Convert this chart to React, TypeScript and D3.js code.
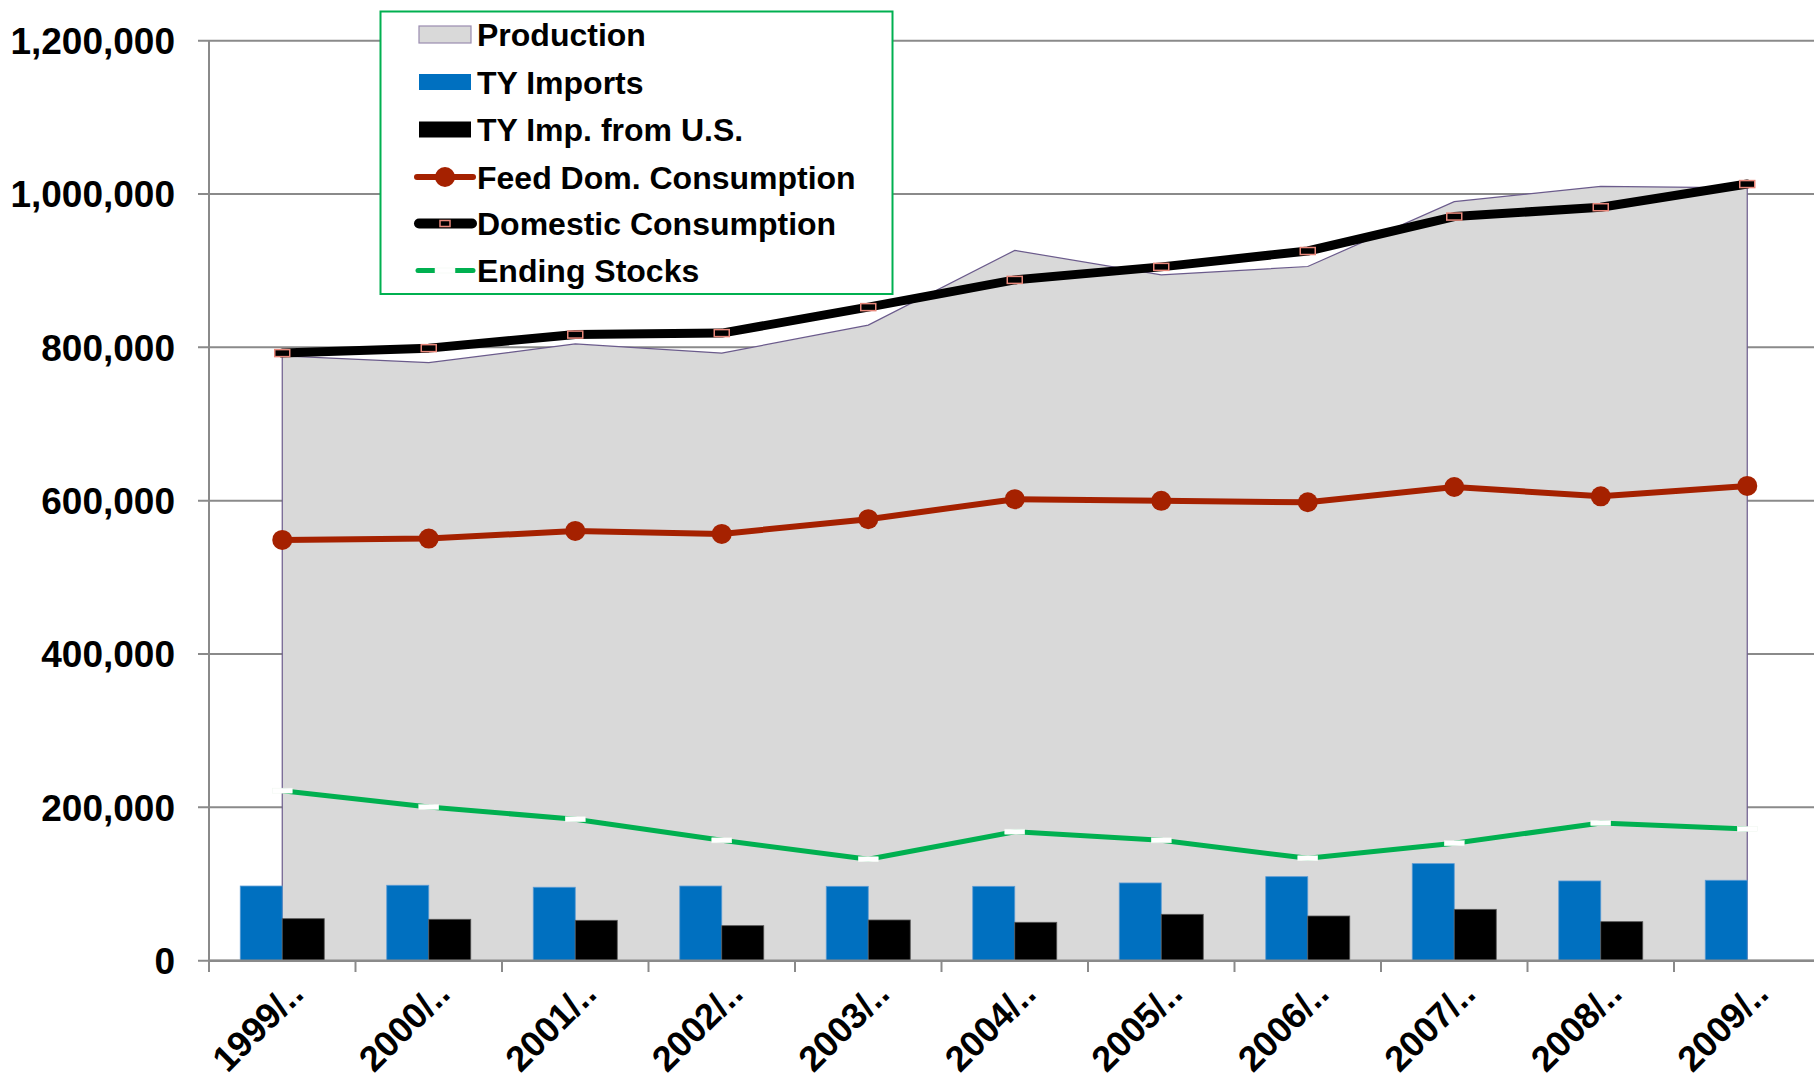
import React from "react";
import * as d3 from "d3";

const categories = ["1999/..", "2000/..", "2001/..", "2002/..", "2003/..", "2004/..", "2005/..", "2006/..", "2007/..", "2008/..", "2009/.."];
const production = [789000, 780000, 804500, 792500, 829000, 926500, 894500, 905500, 990000, 1010000, 1008000];
const tyImports = [97400, 98400, 95800, 97400, 97000, 97000, 101400, 109600, 126600, 104000, 104900];
const tyImpFromUS: (number | null)[] = [54800, 54000, 52700, 45700, 53100, 50100, 60500, 58300, 67000, 50900, null];
const feedDomConsumption = [548900, 550600, 560600, 556700, 575900, 602000, 599800, 598000, 617800, 605700, 619300];
const domesticConsumption = [792500, 799000, 816700, 818600, 852500, 888000, 905000, 925700, 970600, 982800, 1013000];
const endingStocks = [221800, 200500, 184500, 157000, 132300, 168300, 157000, 133600, 153200, 179600, 171800];
const yTicks = [0, 200000, 400000, 600000, 800000, 1000000, 1200000];
const legendLabels = ["Production", "TY Imports", "TY Imp. from U.S.", "Feed Dom. Consumption", "Domestic Consumption", "Ending Stocks"];

const W = 1814;
const H = 1083;
const FONT = "'Liberation Sans', Arial, sans-serif";

export default function App() {
  const x = d3.scaleBand<string>().domain(categories).range([209, 209 + 11 * 146.5]).padding(0);
  const y = d3.scaleLinear().domain([0, 1200000]).range([960.7, 40.7]);
  const cx = (c: string) => (x(c) as number) + x.bandwidth() / 2;
  const sub = d3.scaleBand<string>().domain(["imp", "us"]).range([-42, 42]).padding(0);
  const fmt = d3.format(",");

  const area = d3
    .area<number>()
    .x((_, i) => cx(categories[i]))
    .y0(y(0))
    .y1((d) => y(d));
  const line = d3
    .line<number>()
    .x((_, i) => cx(categories[i]))
    .y((d) => y(d));

  const xTicks = d3.range(categories.length).map((i) => x(categories[i]) as number);

  const legendY = [34.5, 82, 129.5, 177, 223.5, 270.5];
  const lx0 = 419;
  const lx1 = 471;
  const lmid = (lx0 + lx1) / 2;

  return (
    <svg width={W} height={H} style={{ position: "absolute", left: 0, top: 0, background: "#fff" }} fontFamily={FONT}>
      {/* gridlines */}
      {yTicks.map((t) => (
        <line key={"g" + t} x1={198} x2={W} y1={y(t)} y2={y(t)} stroke="#8a8a8a" strokeWidth={2} />
      ))}
      {/* y axis */}
      <line x1={209} x2={209} y1={y(1200000)} y2={972} stroke="#8a8a8a" strokeWidth={2} />
      {xTicks.map((t, i) => (
        <line key={"xt" + i} x1={t} x2={t} y1={y(0)} y2={972} stroke="#8a8a8a" strokeWidth={2} />
      ))}
      {yTicks.map((t) => (
        <text key={"yl" + t} x={175} y={y(t)} dy="0.36em" textAnchor="end" fontSize={37} fontWeight="bold" fill="#000">
          {fmt(t)}
        </text>
      ))}

      {/* production area */}
      <path d={area(production) as string} fill="#d9d9d9" stroke="#6b5b8c" strokeWidth={1.2} />

      {/* bars */}
      {categories.map((c, i) => (
        <g key={"b" + c}>
          <rect
            x={cx(c) + (sub("imp") as number)}
            y={y(tyImports[i])}
            width={sub.bandwidth()}
            height={y(0) - y(tyImports[i])}
            fill="#0070c0"
            stroke="#5b9bd5"
            strokeWidth={0.8}
          />
          {tyImpFromUS[i] != null && (
            <rect
              x={cx(c) + (sub("us") as number)}
              y={y(tyImpFromUS[i] as number)}
              width={sub.bandwidth()}
              height={y(0) - y(tyImpFromUS[i] as number)}
              fill="#000"
              stroke="#555"
              strokeWidth={0.8}
            />
          )}
        </g>
      ))}
      {/* x axis line */}
      <line x1={209} x2={W} y1={y(0)} y2={y(0)} stroke="#8a8a8a" strokeWidth={2.5} />

      {/* ending stocks */}
      <path d={line(endingStocks) as string} fill="none" stroke="#00b050" strokeWidth={5} strokeLinejoin="round" />
      {endingStocks.map((v, i) => (
        <rect key={"es" + i} x={cx(categories[i]) - 10} y={y(v) - 2.5} width={20} height={5} fill="#fff" stroke="#eef6ee" strokeWidth={0.5} />
      ))}

      {/* feed dom consumption */}
      <path d={line(feedDomConsumption) as string} fill="none" stroke="#a52100" strokeWidth={6} strokeLinejoin="round" />
      {feedDomConsumption.map((v, i) => (
        <circle key={"fd" + i} cx={cx(categories[i])} cy={y(v)} r={10} fill="#a52100" />
      ))}

      {/* domestic consumption */}
      <path d={line(domesticConsumption) as string} fill="none" stroke="#000" strokeWidth={9} strokeLinejoin="round" strokeLinecap="round" />
      {domesticConsumption.map((v, i) => (
        <rect key={"dc" + i} x={cx(categories[i]) - 7.5} y={y(v) - 3.5} width={15} height={7} fill="#000" stroke="#e8877a" strokeWidth={1.5} />
      ))}

      {/* x labels */}
      {categories.map((c) => (
        <text
          key={"xl" + c}
          transform={`translate(${cx(c) + 23},996) rotate(-45)`}
          textAnchor="end"
          fontSize={36}
          fontWeight="bold"
          fill="#000"
        >
          {c}
        </text>
      ))}

      {/* legend */}
      <rect x={380.5} y={11.5} width={512} height={282.5} fill="#fff" stroke="#00b050" strokeWidth={2} />
      {legendLabels.map((l, i) => (
        <text key={"lg" + i} x={477} y={legendY[i]} dy="0.36em" fontSize={32} fontWeight="bold" fill="#000">
          {l}
        </text>
      ))}
      <rect x={lx0} y={legendY[0] - 8.5} width={lx1 - lx0} height={17} fill="#d9d9d9" stroke="#9a8cb0" strokeWidth={1.2} />
      <rect x={lx0} y={legendY[1] - 8} width={lx1 - lx0} height={16} fill="#0070c0" />
      <rect x={lx0} y={legendY[2] - 8} width={lx1 - lx0} height={16} fill="#000" />
      <line x1={417} x2={473} y1={legendY[3]} y2={legendY[3]} stroke="#a52100" strokeWidth={6} strokeLinecap="round" />
      <circle cx={lmid} cy={legendY[3]} r={10} fill="#a52100" />
      <line x1={419} x2={472} y1={legendY[4]} y2={legendY[4]} stroke="#000" strokeWidth={10} strokeLinecap="round" />
      <rect x={lmid - 5} y={legendY[4] - 3} width={10} height={6} fill="#000" stroke="#e8877a" strokeWidth={1.5} />
      <line x1={418} x2={473} y1={legendY[5]} y2={legendY[5]} stroke="#00b050" strokeWidth={5} strokeLinecap="round" />
      <rect x={lmid - 10} y={legendY[5] - 2.5} width={20} height={5} fill="#fff" stroke="#eef6ee" strokeWidth={0.5} />
    </svg>
  );
}
